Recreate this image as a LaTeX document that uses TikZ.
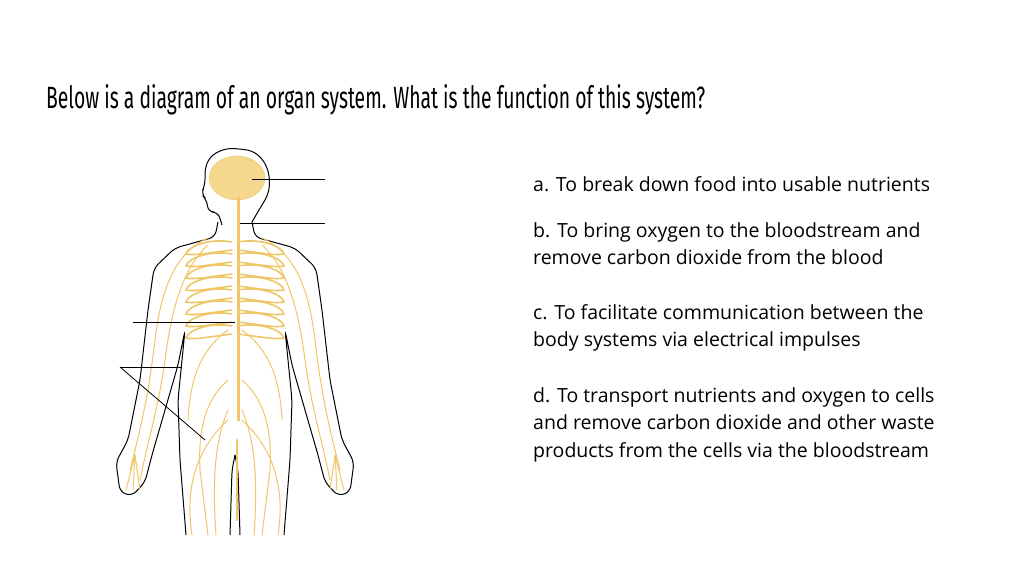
\documentclass[tikz,border=0pt]{standalone}
\usepackage{fontspec}
\setmainfont{Open Sans}
\newfontfamily\titlefont{Fira Sans}
\begin{document}
\begin{tikzpicture}[x=1pt,y=-1pt,
  body/.style={draw=black,line width=1pt,rounded corners=6pt},
  nerve/.style={draw=nervecol,line width=1.6pt,line cap=round},
  thin/.style={draw=nervecol,line width=1pt,line cap=round},
  lbl/.style={draw=black,line width=0.8pt},
  opt/.style={anchor=west,font=\fontsize{19.5}{27.5}\selectfont,align=left,inner sep=0pt}]
\definecolor{nervecol}{HTML}{EFC66A}
\definecolor{brain}{HTML}{F6D78E}
\useasboundingbox (0,0) rectangle (1024,576);
\node[anchor=west,inner sep=0pt] (title) at (46,100) {\resizebox{659pt}{24pt}{\titlefont Below is a diagram of an organ system. What is the function of this system?}};
% body outline
\foreach \s in {1,-1}{
\begin{scope}[xshift=235pt,xscale=\s,xshift=-235pt]
\draw[body] (252,222) -- (255,237) -- (295,248) -- (316,268) -- (322,310) -- (330,380) -- (342,440) -- (354,462) -- (350,492) -- (338,496) -- (325,482) -- (318,455) -- (305,410) -- (292,365) -- (285,330) -- (292,400) -- (290,460) -- (284,535);
\draw[body] (240,535) -- (238,470) -- (235,455);
% arm nerves
\draw[thin] (262,238) .. controls (300,255) and (310,300) .. (315,340) .. controls (322,400) and (330,430) .. (340,470);
\draw[thin] (262,245) .. controls (290,270) and (300,320) .. (305,360) .. controls (312,410) and (322,440) .. (330,480);
\foreach \f in {330,337,344}{\draw[thin] (335,455) -- (\f,490);}
% trunk nerves
\draw[thin] (242,330) .. controls (270,350) and (280,380) .. (282,420);
\draw[thin] (242,380) .. controls (265,400) and (272,430) .. (270,470) -- (262,535);
\draw[thin] (242,410) .. controls (255,440) and (258,480) .. (254,535);
\draw[thin] (242,420) .. controls (275,450) and (285,490) .. (278,535);
% ribs
\foreach \y in {242,254,266,278,290,302,314,326}{
 \draw[nerve] (238,\y) .. controls (260,\y-4) and (282,\y+4) .. (284,\y+12) .. controls (276,\y+14) and (255,\y+10) .. (238,\y+8);}
\end{scope}}
% head
\draw[body] (222,225) -- (218,212) -- (208,212) -- (207,200) -- (201,194) -- (205,185) -- (205,168) .. controls (212,152) and (225,148) .. (240,149) .. controls (262,152) and (272,170) .. (268,195) -- (256,215) -- (252,222);
\fill[brain,draw=nervecol] (237,178) ellipse [x radius=28pt,y radius=22pt];
\draw[nerve,line width=3pt] (238,198) -- (238,420);
\draw[nerve,line width=2.5pt] (237,440) -- (237,520);
% label lines
\coordinate (l1) at (325,179); \coordinate (l1e) at (252,179);
\coordinate (l2) at (325,223); \coordinate (l2e) at (240,223);
\coordinate (l3) at (133,322); \coordinate (l3e) at (235,322);
\coordinate (l4) at (120,367); \coordinate (l4a) at (182,367); \coordinate (l4b) at (205,440);
\draw[lbl] (l1e) -- (l1);
\draw[lbl] (l2e) -- (l2);
\draw[lbl] (l3) -- (l3e);
\draw[lbl] (l4) -- (l4a);
\draw[lbl] (l4) -- (l4b);
% options
\node[opt] (a) at (533,184) {a. To break down food into usable nutrients};
\node[opt,anchor=north west] (b) at (533,222) {b. To bring oxygen to the bloodstream and\\remove carbon dioxide from the blood};
\node[opt,anchor=north west] (c) at (533,304) {c. To facilitate communication between the\\body systems via electrical impulses};
\node[opt,anchor=north west] (d) at (533,387) {d. To transport nutrients and oxygen to cells\\and remove carbon dioxide and other waste\\products from the cells via the bloodstream};
\end{tikzpicture}
\end{document}
